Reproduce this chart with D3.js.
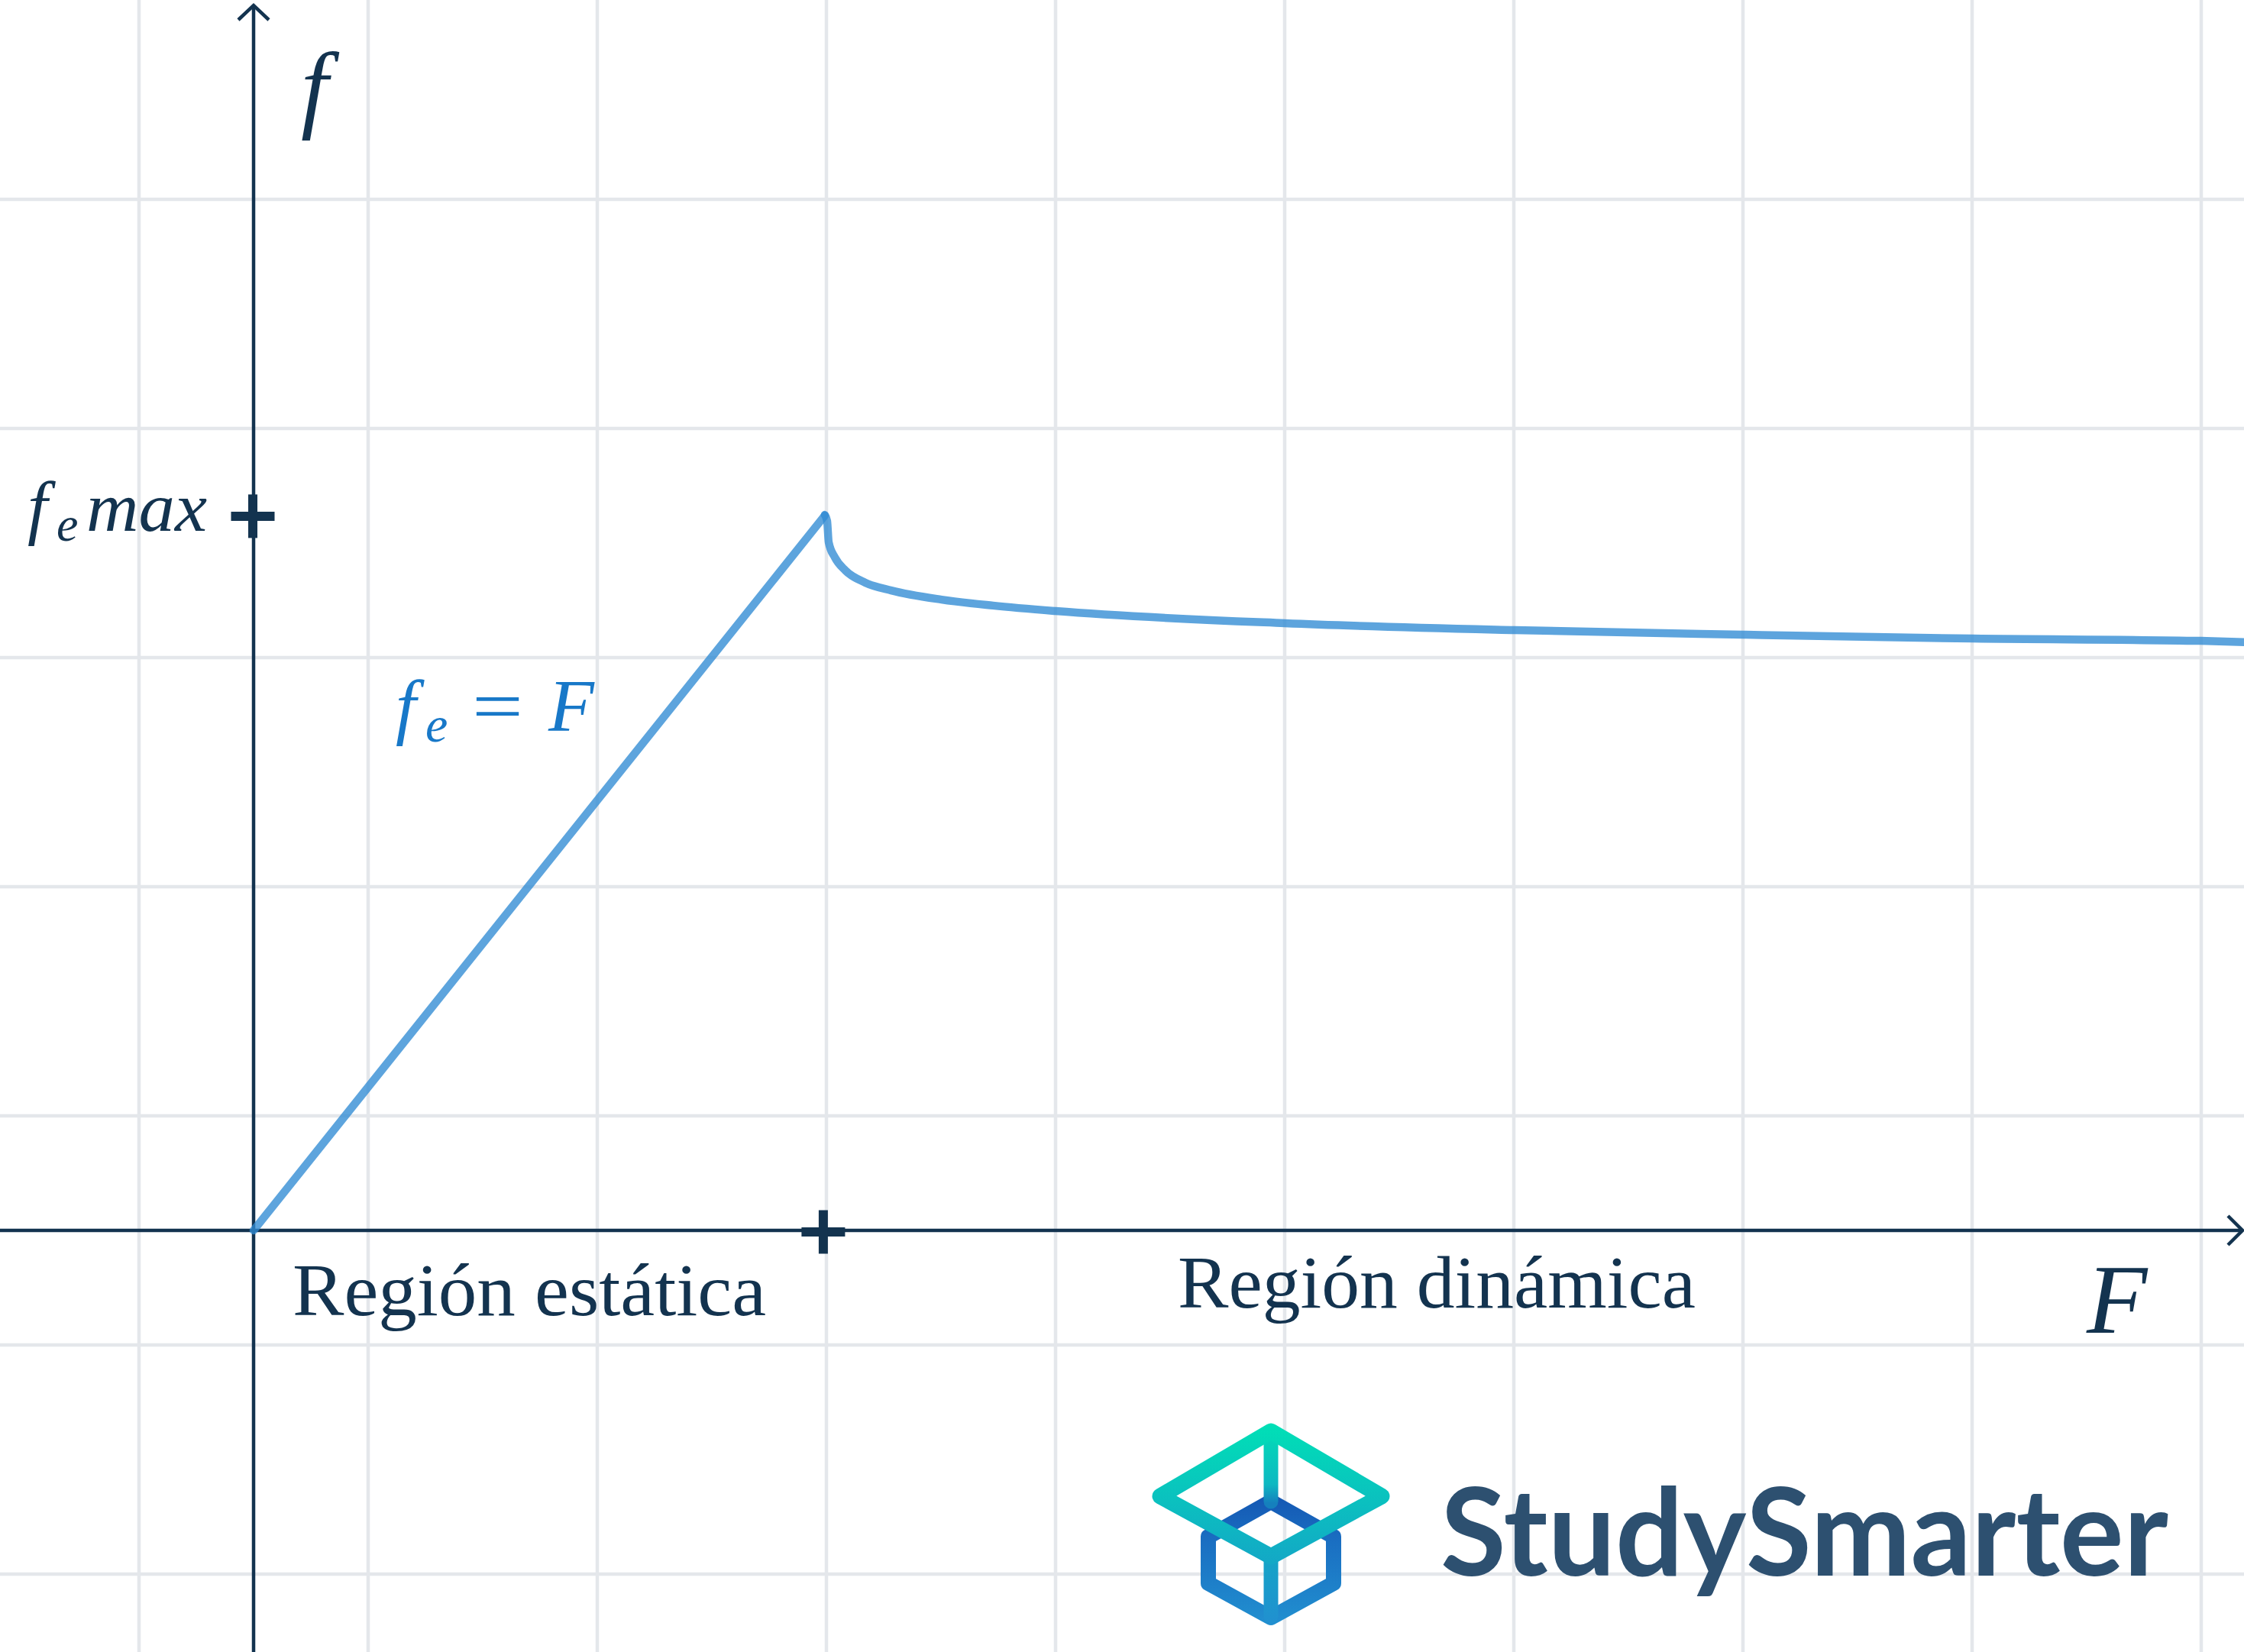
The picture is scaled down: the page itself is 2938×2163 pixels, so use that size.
<!DOCTYPE html>
<html>
<head>
<meta charset="utf-8">
<script src="https://cdn.jsdelivr.net/npm/d3@7/dist/d3.min.js"></script>
<style>
  html, body { margin: 0; padding: 0; background: #ffffff; }
  svg { display: block; }
</style>
</head>
<body>
<svg id="chart" width="2938" height="2163"></svg>
<script>
// ---------------- data ----------------
// static region: friction equals applied force
const staticF = [0, 2.493];
const staticf = [0, 3.120];
// dynamic region: kinetic friction after the peak
const dynamicF = [2.493, 2.503, 2.510, 2.537, 2.583, 2.670, 2.783, 3.003, 3.227, 3.500, 4.500, 5.503, 6.503, 7.503, 8.497, 8.700];
const dynamicf = [3.123, 3.097, 3.003, 2.937, 2.880, 2.827, 2.793, 2.753, 2.727, 2.703, 2.650, 2.620, 2.600, 2.583, 2.573, 2.567];
// grid values
const gridXValues = [-0.5, 0.5, 1.5, 2.5, 3.5, 4.5, 5.5, 6.5, 7.5, 8.5];
const gridYValues = [-1.5, -0.5, 0.5, 1.5, 2.5, 3.5, 4.5];
// ticks
const xTickValues = [2.493];
const yTickValues = [3.117];
const yTickLabels = ["max"];
const regionLabels = ["Región estática", "Región dinámica"];
const brandName = "StudySmarter";

// ---------------- layout ----------------
const W = 2938, H = 2163;
const unit = 300;
const ox = 332, oy = 1611;
const x = d3.scaleLinear().domain([0, 1]).range([ox, ox + unit]);
const y = d3.scaleLinear().domain([0, 1]).range([oy, oy - unit]);

const navy = "#13334f";
const gridCol = "#e4e7eb";
const serif = "'Liberation Serif','Times New Roman',serif";

const svg = d3.select("#chart");

// grid
const g = svg.append("g");
g.selectAll("line.gx").data(gridXValues).join("line")
  .attr("x1", d => x(d)).attr("x2", d => x(d))
  .attr("y1", 0).attr("y2", H)
  .attr("stroke", gridCol).attr("stroke-width", 4.5);
g.selectAll("line.gy").data(gridYValues).join("line")
  .attr("y1", d => y(d)).attr("y2", d => y(d))
  .attr("x1", 0).attr("x2", W)
  .attr("stroke", gridCol).attr("stroke-width", 4.5);

// axes
const ax = svg.append("g").attr("stroke", navy).attr("fill", "none").attr("stroke-width", 4.5);
ax.append("line").attr("x1", x(0)).attr("x2", x(0)).attr("y1", H).attr("y2", 7);
ax.append("polyline").attr("points", `${x(0)-20},26 ${x(0)},7 ${x(0)+20},26`);
ax.append("line").attr("x1", 0).attr("x2", W - 2).attr("y1", y(0)).attr("y2", y(0));
ax.append("polyline").attr("points", `${W-21},${y(0)-19} ${W-2},${y(0)} ${W-21},${y(0)+19}`);

// plus ticks
function plus(cx, cy) {
  const p = svg.append("g").attr("stroke", navy).attr("stroke-width", 12);
  p.append("line").attr("x1", cx - 28.5).attr("x2", cx + 28.5).attr("y1", cy).attr("y2", cy);
  p.append("line").attr("x1", cx).attr("x2", cx).attr("y1", cy - 28.5).attr("y2", cy + 28.5);
}
xTickValues.forEach(v => plus(x(v) - 2, y(0) + 2));
yTickValues.forEach(v => plus(x(0) - 1, y(v)));

// curves
const line = d3.line().x(d => x(d[0])).y(d => y(d[1]));
const lineDyn = d3.line().x(d => x(d[0])).y(d => y(d[1])).curve(d3.curveMonotoneX);
svg.append("path")
  .attr("d", line(staticF.map((v, i) => [v, staticf[i]])))
  .attr("fill", "none").attr("stroke", "#2f8bd4").attr("stroke-opacity", 0.78)
  .attr("stroke-width", 10.5).attr("stroke-linecap", "round");
svg.append("path")
  .attr("d", lineDyn(dynamicF.map((v, i) => [v, dynamicf[i]])))
  .attr("fill", "none").attr("stroke", "#2f8bd4").attr("stroke-opacity", 0.78)
  .attr("stroke-width", 10.5).attr("stroke-linecap", "round").attr("stroke-linejoin", "round");

// axis labels
svg.append("text").attr("x", x(0) + 62).attr("y", 157)
  .attr("font-family", serif).attr("font-style", "italic").attr("font-size", 128)
  .attr("fill", navy).text("f");
svg.append("text").attr("x", 2732).attr("y", 1745)
  .attr("font-family", serif).attr("font-style", "italic").attr("font-size", 130)
  .attr("fill", navy).text("F");

// f_e max label
const fm = svg.append("g").attr("font-family", serif).attr("font-style", "italic").attr("fill", navy);
const ty = y(yTickValues[0]) + 19;
fm.append("text").attr("x", 36).attr("y", ty).attr("font-size", 94).text("f");
fm.append("text").attr("x", 74).attr("y", ty + 13).attr("font-size", 64).text("e");
fm.append("text").attr("x", 113).attr("y", ty).attr("font-size", 90)
  .attr("textLength", 158).attr("lengthAdjust", "spacingAndGlyphs").text(yTickLabels[0]);

// f_e = F label
const bl = svg.append("g").attr("font-family", serif).attr("fill", "#1878c8");
bl.append("text").attr("x", 518).attr("y", 957).attr("font-style", "italic").attr("font-size", 96).text("f");
bl.append("text").attr("x", 557).attr("y", 971).attr("font-style", "italic").attr("font-size", 66).text("e");
bl.append("text").attr("x", 618).attr("y", 957).attr("font-size", 96)
  .attr("textLength", 67).attr("lengthAdjust", "spacingAndGlyphs").text("=");
bl.append("text").attr("x", 718).attr("y", 957).attr("font-style", "italic").attr("font-size", 98).text("F");

// region labels
svg.append("text").attr("x", 383).attr("y", 1722)
  .attr("font-family", serif).attr("font-size", 98).attr("fill", navy)
  .attr("textLength", 620).attr("lengthAdjust", "spacingAndGlyphs").text(regionLabels[0]);
svg.append("text").attr("x", 1542).attr("y", 1712)
  .attr("font-family", serif).attr("font-size", 98).attr("fill", navy)
  .attr("textLength", 678).attr("lengthAdjust", "spacingAndGlyphs").text(regionLabels[1]);

// ---------------- logo ----------------
const defs = svg.append("defs");
function grad(id, y1, y2, stops) {
  const lg = defs.append("linearGradient").attr("id", id)
    .attr("gradientUnits", "userSpaceOnUse").attr("x1", 0).attr("x2", 0).attr("y1", y1).attr("y2", y2);
  stops.forEach(s => lg.append("stop").attr("offset", s[0]).attr("stop-color", s[1]));
}
grad("gHex", 1962, 2128, [[0, "#1559b4"], [0.35, "#1a6fc2"], [1, "#2190d0"]]);
grad("gTop", 1862, 2045, [[0, "#00e0b6"], [1, "#13a8c6"]]);
grad("gStemLow", 2040, 2125, [[0, "#14a4c7"], [1, "#2190d0"]]);
grad("gStemUp", 1870, 1968, [[0, "#02dcb6"], [0.75, "#0db8c2"], [1, "#1580bd"]]);

const logo = svg.append("g").attr("fill", "none").attr("stroke-linejoin", "round").attr("stroke-linecap", "round");
const cx = 1664;
// lower hexagon
logo.append("path")
  .attr("d", `M${cx},1966 L${cx+82},2012 L${cx+82},2073 L${cx},2118 L${cx-82},2073 L${cx-82},2012 Z`)
  .attr("stroke", "url(#gHex)").attr("stroke-width", 20);
// lower stem
logo.append("line").attr("x1", cx).attr("x2", cx).attr("y1", 2040).attr("y2", 2116)
  .attr("stroke", "url(#gStemLow)").attr("stroke-width", 19);
// upper stem
logo.append("line").attr("x1", cx).attr("x2", cx).attr("y1", 1878).attr("y2", 1966)
  .attr("stroke", "url(#gStemUp)").attr("stroke-width", 19);
// top rhombus
logo.append("path")
  .attr("d", `M${cx},1874 L${cx+145},1959 L${cx},2038 L${cx-145},1959 Z`)
  .attr("stroke", "url(#gTop)").attr("stroke-width", 21);

svg.append("text").attr("x", 1886).attr("y", 2063)
  .attr("font-family", "Lato, 'Open Sans', sans-serif").attr("font-weight", 700)
  .attr("font-size", 160).attr("fill", "#2d5070")
  .attr("textLength", 953).attr("lengthAdjust", "spacingAndGlyphs").text(brandName);
</script>
</body>
</html>
